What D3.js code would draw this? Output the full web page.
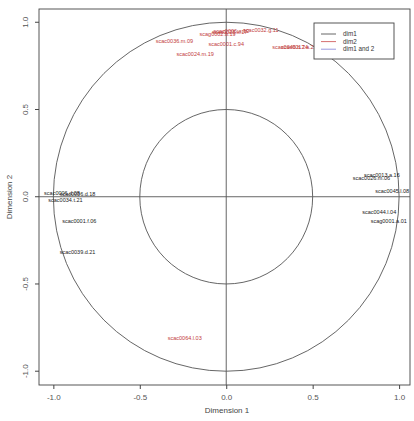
<!DOCTYPE html>
<html>
<head>
<meta charset="utf-8">
<script src="https://cdn.jsdelivr.net/npm/d3@7"></script>
<style>
	body { margin: 0; background: #fff; }
	svg text { font-family: "Liberation Sans", Arial, sans-serif; }
</style>
</head>
<body>
<svg id="chart" width="414" height="421"></svg>
<script>
// variable names, coordinates on the two dimensions and the dimension they belong to
const varNames = [
	"scac0006.d.08", "scac0036.d.18", "scac0034.t.21", "scac0001.f.06", "scac0039.d.21",
	"scac0013.a.16", "scac0026.m.06", "scac0045.l.08", "scac0044.l.04", "scag0001.a.01",
	"scac0036.m.09", "scac0024.m.19", "scac0001.c.94", "scac0006.a.12", "scac0032.g.11",
	"scag0002.b.19", "scac0025.k.17", "scac0046.b.24", "scac0017.a.22", "scac0064.l.03"
];
const coordX = [
	-0.95, -0.86, -0.93, -0.85, -0.86,
	0.90, 0.84, 0.96, 0.885, 0.94,
	-0.30, -0.18, 0.00, 0.03, 0.20,
	-0.05, 0.02, 0.37, 0.42, -0.24
];
const coordY = [
	0.02, 0.015, -0.02, -0.14, -0.32,
	0.125, 0.107, 0.03, -0.09, -0.14,
	0.89, 0.82, 0.875, 0.95, 0.955,
	0.93, 0.945, 0.86, 0.86, -0.81
];
const groups = [
	"dim1", "dim1", "dim1", "dim1", "dim1",
	"dim1", "dim1", "dim1", "dim1", "dim1",
	"dim2", "dim2", "dim2", "dim2", "dim2",
	"dim2", "dim2", "dim2", "dim2", "dim2"
];

const tickValues = [-1.0, -0.5, 0.0, 0.5, 1.0];
const circleRadii = [1, 0.5];
const legendNames = ["dim1", "dim2", "dim1 and 2"];
const legendColors = ["#555", "#d06060", "#8c8cdc"];

let svg = d3.select("#chart");

let x = d3.scaleLinear().domain([-1.083, 1.063]).range([39, 410]);
let y = d3.scaleLinear().domain([-1.079, 1.076]).range([385, 9]);

let colorOf = { dim1: "#1a1a1a", dim2: "#c23b3b" };

// R style labels: plain hyphen, one decimal
let fmt = d => d.toFixed(1);

/* ---------------- axes ---------------- */

svg.append("g")
	.attr("transform", "translate(0,385)")
	.call(d3.axisBottom(x).tickValues(tickValues).tickSize(4).tickPadding(5).tickFormat(fmt))
	.call(g => g.select(".domain").remove())
	.call(g => g.selectAll("line").attr("stroke", "#444"))
	.call(g => g.selectAll("text").attr("fill", "#555").attr("font-size", "8px"));

svg.append("g")
	.attr("transform", "translate(39,0)")
	.call(d3.axisLeft(y).tickValues(tickValues).tickSize(4).tickPadding(4).tickFormat(fmt))
	.call(g => g.select(".domain").remove())
	.call(g => g.selectAll("line").attr("stroke", "#444"))
	.call(g => g.selectAll("text")
		.attr("fill", "#555").attr("font-size", "8px")
		.attr("text-anchor", "middle")
		.attr("dy", "0")
		.attr("transform", d => "rotate(-90," + (-11) + "," + y(d) + ")")
		.attr("x", -11)
		.attr("y", d => y(d)))
	.call(g => g.selectAll(".tick").attr("transform", null))
	.call(g => g.selectAll(".tick line").attr("transform", d => "translate(0," + y(d) + ")"));

svg.append("text")
	.attr("x", 227).attr("y", 413)
	.attr("text-anchor", "middle")
	.attr("font-size", "8px").attr("fill", "#444")
	.text("Dimension 1");

svg.append("text")
	.attr("transform", "translate(12,197) rotate(-90)")
	.attr("text-anchor", "middle")
	.attr("font-size", "8px").attr("fill", "#444")
	.text("Dimension 2");

/* ---------------- plot frame ---------------- */

let plot = svg.append("g");

plot.append("rect")
	.attr("x", 39).attr("y", 9)
	.attr("width", 410 - 39).attr("height", 385 - 9)
	.attr("fill", "none").attr("stroke", "#444").attr("stroke-width", 0.9);

plot.append("line")
	.attr("x1", x(0)).attr("x2", x(0)).attr("y1", 9).attr("y2", 385)
	.attr("stroke", "#555").attr("stroke-width", 0.9);
plot.append("line")
	.attr("x1", 39).attr("x2", 410).attr("y1", y(0)).attr("y2", y(0))
	.attr("stroke", "#555").attr("stroke-width", 0.9);

plot.selectAll(".circle")
	.data(circleRadii)
	.enter().append("ellipse")
	.attr("class", "circle")
	.attr("cx", x(0)).attr("cy", y(0))
	.attr("rx", r => x(r) - x(0))
	.attr("ry", r => y(0) - y(r))
	.attr("fill", "none").attr("stroke", "#555").attr("stroke-width", 0.9);

/* ---------------- variable labels ---------------- */

let points = varNames.map((name, i) => ({ name: name, px: coordX[i], py: coordY[i], group: groups[i] }));

plot.selectAll(".varLabel")
	.data(points)
	.enter().append("text")
	.attr("class", "varLabel")
	.attr("x", d => x(d.px))
	.attr("y", d => y(d.py))
	.attr("dy", "0.35em")
	.attr("text-anchor", "middle")
	.attr("font-size", "5.5px")
	.attr("fill", d => colorOf[d.group])
	.text(d => d.name);

/* ---------------- legend ---------------- */

let legend = svg.append("g");
legend.append("rect")
	.attr("x", 314).attr("y", 23)
	.attr("width", 80).attr("height", 36)
	.attr("fill", "#fff").attr("stroke", "#444").attr("stroke-width", 0.9);

let items = legend.selectAll(".item")
	.data(legendNames)
	.enter().append("g")
	.attr("class", "item")
	.attr("transform", (d, i) => "translate(0," + (34 + i * 7.6) + ")");

items.append("line")
	.attr("x1", 321).attr("x2", 336)
	.attr("stroke", (d, i) => legendColors[i]).attr("stroke-width", 0.9);
items.append("text")
	.attr("x", 343).attr("dy", "0.35em")
	.attr("font-size", "6.3px").attr("fill", "#333")
	.text(d => d);
</script>
</body>
</html>
